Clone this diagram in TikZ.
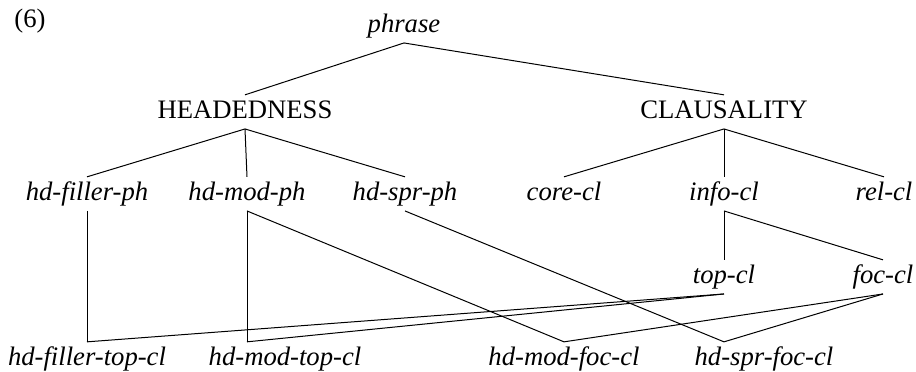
\documentclass[tikz,border=0pt]{standalone}
\usepackage{fontspec}
\setmainfont{Liberation Serif}
\usepackage{tikz}

\tikzset{
  typ/.style={anchor=base,inner xsep=0pt,inner ysep=2.2pt,text height=8pt,text depth=2.5pt,font=\fontsize{12}{14}\selectfont\itshape},
  dim/.style={typ,font=\fontsize{12}{14}\selectfont\upshape},
}

\begin{document}
\begin{tikzpicture}[x=0.45pt,y=-0.45pt,line width=0.45pt]
        \useasboundingbox (0,0) rectangle (916,371);
        \node[anchor=base,font=\fontsize{12}{14}\selectfont] (num) at (30,27) {(6)};
        \node[typ] (phrase) at (404,32) {phrase};
        \node[dim] (head) at (245,118) {HEADEDNESS};
        \node[dim] (claus) at (724,118) {CLAUSALITY};
        \node[typ] (hdfill) at (87,200) {hd-filler-ph};
        \node[typ] (hdmod) at (247,200) {hd-mod-ph};
        \node[typ] (hdspr) at (405,200) {hd-spr-ph};
        \node[typ] (core) at (564,200) {core-cl};
        \node[typ] (info) at (724,200) {info-cl};
        \node[typ] (rel) at (884,200) {rel-cl};
        \node[typ] (topcl) at (724,283) {top-cl};
        \node[typ] (foccl) at (883,283) {foc-cl};
        \node[typ] (hdfilltop) at (87,365) {hd-filler-top-cl};
        \node[typ] (hdmodtop) at (285,365) {hd-mod-top-cl};
        \node[typ] (hdmodfoc) at (564,365) {hd-mod-foc-cl};
        \node[typ] (hdsprfoc) at (764,365) {hd-spr-foc-cl};
        % the two bottom types hang off-centre
        \coordinate (hdmodtopj) at (hdmodtop.north -| hdmod.south);
        \coordinate (hdsprfocj) at (hdsprfoc.north -| topcl.south);
        \draw (phrase.south) -- (head.north);
        \draw (phrase.south) -- (claus.north);
        \draw (head.south) -- (hdfill.north);
        \draw (head.south) -- (hdmod.north);
        \draw (head.south) -- (hdspr.north);
        \draw (claus.south) -- (core.north);
        \draw (claus.south) -- (info.north);
        \draw (claus.south) -- (rel.north);
        \draw (info.south) -- (topcl.north);
        \draw (info.south) -- (foccl.north);
        \draw (hdfill.south) -- (hdfilltop.north);
        \draw (hdmod.south) -- (hdmodtopj);
        \draw (hdmod.south) -- (hdmodfoc.north);
        \draw (hdspr.south) -- (hdsprfocj);
        \draw (topcl.south) -- (hdfilltop.north);
        \draw (topcl.south) -- (hdmodtopj);
        \draw (foccl.south) -- (hdmodfoc.north);
        \draw (foccl.south) -- (hdsprfocj);
    \end{tikzpicture}
\end{document}
